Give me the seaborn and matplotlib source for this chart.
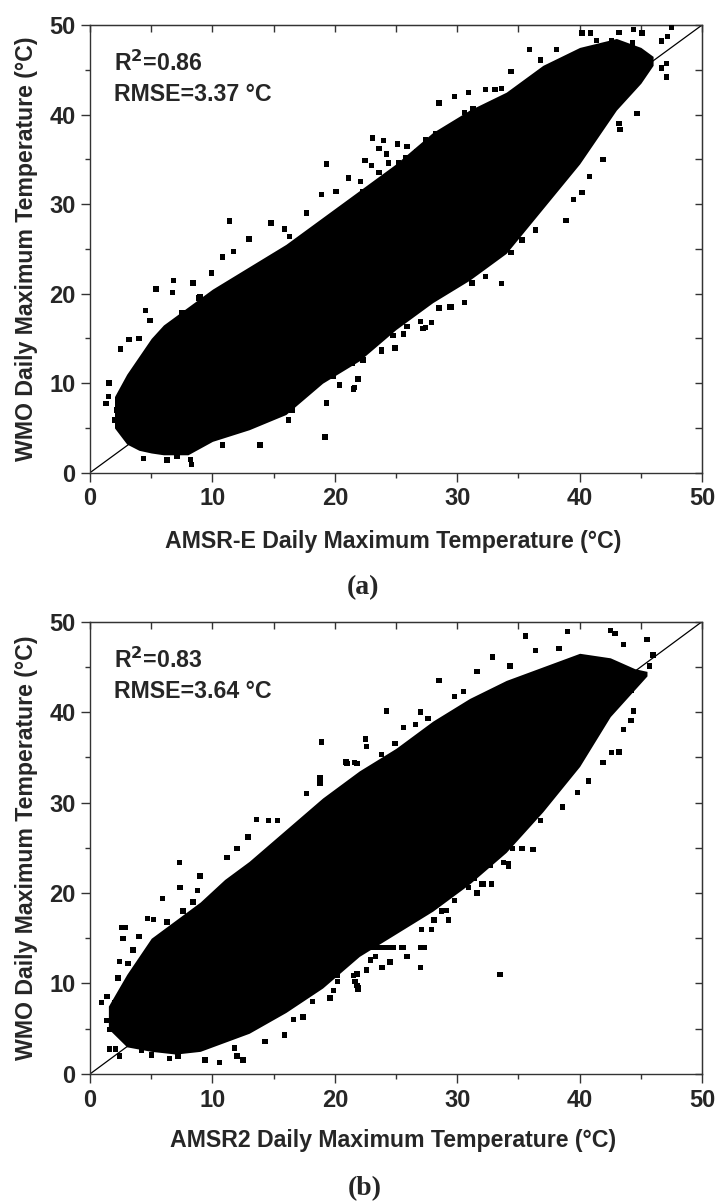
import numpy as np
import seaborn as sns
import matplotlib.pyplot as plt
from matplotlib.ticker import MultipleLocator

# ---- panel (a): AMSR-E vs WMO ----
# solid core of the point cloud (x, lower edge, upper edge)
a_core_x = [2, 3, 4, 5, 6, 8, 10, 13, 16, 19, 22, 25, 28, 31, 34, 37, 40, 43, 45, 46]
a_core_lo = [5.0, 3.2, 2.5, 2.2, 2.0, 2.0, 3.5, 4.8, 6.5, 10.0, 12.5, 16.0, 19.0, 21.5, 24.5, 29.5, 34.5, 40.5, 43.5, 45.5]
a_core_hi = [8.5, 11.0, 13.0, 15.0, 16.5, 18.5, 20.5, 23.0, 25.5, 28.5, 31.5, 34.5, 38.0, 40.5, 42.5, 45.5, 47.5, 48.5, 47.5, 46.5]
# loose points around the core
a_pts_x = [1.3, 1.5, 1.55, 2.2, 2.0, 2.5, 3.2, 4.0, 4.55, 4.9, 5.4, 6.8, 6.75, 8.4, 8.9, 7.5,
           4.35, 6.3, 7.1, 8.3, 8.2, 10.8, 13.9, 16.2, 16.5, 19.2, 19.3, 21.5, 20.4, 19.9, 21.2,
           21.6, 21.9, 22.3, 23.8, 24.9, 24.75, 25.6, 25.9, 27.0, 27.4, 27.9, 28.5, 29.5, 30.6,
           33.6, 31.2, 32.3, 34.4, 38.9, 40.8, 40.2, 39.5, 41.9, 43.3, 44.7, 43.2, 47.1, 47.1,
           46.7, 46.7, 47.2, 47.5, 45.1, 44.4, 44.3, 42.6, 43.2, 40.2, 40.9, 41.4, 38.1, 35.9,
           36.8, 34.4, 33.1, 33.6, 32.3, 30.9, 29.8, 28.5, 31.3, 30.6, 29.8, 28.2, 27.4, 26.7,
           25.9, 25.1, 24.0, 23.1, 23.6, 24.2, 22.5, 23.0, 22.1, 22.3, 23.6, 24.4, 25.2, 25.8,
           11.4, 13.0, 14.8, 19.3, 18.9, 20.1, 21.1, 22.4, 17.7, 9.9, 10.8, 11.7, 7.6, 9.0, 16.3,
           15.9, 29.4, 27.2, 24.9, 23.8, 21.9, 21.4, 36.4, 35.3]
a_pts_y = [7.75, 8.5, 10.0, 7.0, 5.9, 13.8, 14.9, 15.0, 18.1, 17.0, 20.5, 21.5, 20.1, 21.2, 19.5, 17.9,
           1.6, 1.4, 1.8, 0.9, 1.5, 3.1, 3.1, 5.9, 7.0, 4.0, 7.8, 9.35, 9.8, 10.8, 12.2,
           9.5, 10.5, 12.6, 13.7, 14.0, 15.3, 15.5, 16.3, 16.9, 16.2, 16.8, 18.4, 18.5, 19.0,
           21.1, 21.2, 21.9, 24.6, 28.2, 33.1, 31.3, 30.5, 35.0, 38.3, 40.1, 39.0, 44.2, 45.7,
           45.2, 48.2, 48.7, 49.8, 49.1, 49.5, 48.0, 48.2, 49.2, 49.1, 49.1, 48.3, 47.3, 47.3,
           46.1, 44.8, 42.8, 42.9, 42.8, 42.5, 42.0, 41.3, 40.7, 40.2, 38.9, 37.9, 37.2, 35.9,
           36.4, 36.7, 37.1, 37.4, 36.2, 35.6, 34.9, 34.3, 32.5, 31.4, 33.5, 34.6, 34.6, 35.2,
           28.1, 26.1, 27.9, 34.5, 31.1, 31.4, 32.9, 34.9, 29.0, 22.3, 24.1, 24.7, 17.9, 19.7, 26.4,
           27.2, 18.5, 16.1, 13.9, 13.6, 10.4, 12.2, 27.1, 26.0]

# ---- panel (b): AMSR2 vs WMO ----
b_core_x = [1.5, 3, 5, 7, 9, 11, 13, 16, 19, 22, 25, 28, 31, 34, 37, 40, 42.5, 44.5, 45.5]
b_core_lo = [5.0, 3.0, 2.5, 2.2, 2.5, 3.5, 4.5, 6.8, 9.5, 13.0, 15.5, 18.0, 21.0, 24.5, 29.0, 34.0, 39.5, 42.5, 44.0]
b_core_hi = [7.5, 11.0, 15.0, 17.0, 19.0, 21.5, 23.5, 27.0, 30.5, 33.5, 36.0, 39.0, 41.5, 43.5, 45.0, 46.5, 46.0, 44.8, 44.5]
b_pts_x = [0.95, 1.4, 2.0, 1.4, 1.6, 1.6, 2.1, 2.4, 2.6, 2.9, 2.7, 3.1, 2.4, 2.3, 3.5, 4.0, 4.7, 5.2,
           5.9, 6.3, 7.35, 7.3, 7.6, 8.4, 9.0, 8.8,
           4.2, 5.0, 6.5, 7.2, 9.4, 10.6, 11.8, 12.5, 12.0, 14.3, 15.9, 17.4, 16.6, 19.6, 19.9,
           20.2, 21.5, 21.9, 18.2,
           21.9, 21.8, 21.8, 22.6, 22.9, 23.3, 23.9, 24.5,
           22.0, 22.4, 22.8, 23.2, 23.6, 24.0, 24.4, 24.8,
           25.6, 25.9, 27.0, 27.05, 27.3, 27.1, 27.9, 28.1, 29.3, 28.7, 29.1, 29.8, 30.9, 31.6,
           31.4, 32.1, 32.8, 32.7, 33.8, 34.2, 33.5, 33.0, 34.5, 35.3,
           35.6, 39.0, 42.5, 42.9, 45.5, 43.6, 46.0, 45.7, 44.9, 44.2, 44.4, 44.2, 43.6, 43.2,
           42.6, 41.9, 40.7, 39.8, 38.6, 36.2, 36.8, 32.9, 36.4, 38.3, 31.6, 34.3, 28.5, 30.5,
           29.8, 24.2, 27.0, 27.6, 25.6, 26.6, 22.5, 22.6, 24.9, 23.8, 24.3,
           18.9, 21.0, 21.8, 18.8, 18.8, 17.7, 13.6, 14.6, 15.3, 12.9, 12.0,
           22.5, 11.2, 20.9, 21.6, 34.2, 32.0, 25.5, 24.5, 23.8, 21.65, 20.2]
b_pts_y = [7.9, 8.55, 7.9, 5.9, 4.9, 2.75, 2.75, 2.0, 16.2, 16.2, 15.0, 12.2, 12.4, 10.6, 13.7, 15.2, 17.2, 17.1,
           19.4, 16.8, 20.6, 23.4, 18.0, 19.0, 21.9, 20.3,
           2.65, 2.1, 1.7, 1.9, 1.55, 1.3, 2.85, 1.55, 2.0, 3.6, 4.3, 6.3, 6.0, 8.4, 9.2,
           10.9, 10.9, 9.5, 8.0,
           9.35, 9.8, 11.05, 11.5, 12.6, 13.0, 11.8, 12.4,
           14.0, 14.0, 14.0, 14.0, 14.0, 14.0, 14.0, 14.0,
           14.0, 13.0, 11.8, 14.0, 14.0, 16.0, 16.0, 17.0, 17.0, 18.0, 18.1, 19.2, 20.6, 20.0,
           21.6, 21.0, 21.0, 23.1, 23.4, 23.2, 11.0, 24.6, 24.9, 24.9,
           48.4, 48.9, 49.0, 48.7, 48.0, 47.5, 46.3, 45.1, 44.3, 42.4, 40.1, 39.1, 38.1, 35.6,
           35.5, 34.4, 32.4, 31.1, 29.5, 24.8, 28.0, 46.1, 46.8, 47.0, 44.5, 45.1, 43.5, 42.3,
           41.7, 40.1, 40.0, 39.3, 38.3, 38.6, 37.1, 36.2, 36.5, 35.3, 34.3,
           36.7, 34.3, 34.3, 32.7, 32.1, 31.0, 28.1, 28.0, 28.0, 26.2, 24.9,
           37.0, 23.9, 34.5, 34.4, 23.0, 21.0, 14.0, 12.3, 11.8, 10.2, 10.2]

sns.set_style("ticks")
plt.rcParams['font.family'] = ['Liberation Sans', 'DejaVu Sans']
plt.rcParams['font.weight'] = 'bold'

fig = plt.figure(figsize=(7.15, 12.04), dpi=100)

panels = [
    dict(rect=[0.1259, 0.6074, 0.856, 0.3718], core=(a_core_x, a_core_lo, a_core_hi),
         pts=(a_pts_x, a_pts_y), xlabel="AMSR-E Daily Maximum Temperature (°C)",
         r2="0.86", rmse="3.37", xlab_y=-0.1526),
    dict(rect=[0.1259, 0.1080, 0.856, 0.3757], core=(b_core_x, b_core_lo, b_core_hi),
         pts=(b_pts_x, b_pts_y), xlabel="AMSR2 Daily Maximum Temperature (°C)",
         r2="0.83", rmse="3.64", xlab_y=-0.148),
]

spine_col = "#333333"
txt_size = 16.7
for p in panels:
    ax = fig.add_axes(p["rect"])
    # 1:1 line under the points
    ax.plot([0, 50], [0, 50], color="black", lw=0.9, zorder=1)
    cx, clo, chi = p["core"]
    ax.fill_between(cx, clo, chi, color="black", lw=0, zorder=2)
    sns.scatterplot(x=p["pts"][0], y=p["pts"][1], marker="s", s=15, color="black",
                    edgecolor="none", linewidth=0, ax=ax, zorder=3)
    ax.set_xlim(0, 50)
    ax.set_ylim(0, 50)
    ax.xaxis.set_major_locator(MultipleLocator(10))
    ax.yaxis.set_major_locator(MultipleLocator(10))
    ax.xaxis.set_minor_locator(MultipleLocator(5))
    ax.yaxis.set_minor_locator(MultipleLocator(5))
    ax.tick_params(which="major", direction="out", length=6.5, width=1, color=spine_col,
                   labelsize=17, pad=4)
    ax.tick_params(which="minor", direction="out", length=3.6, width=1, color=spine_col)
    for lab in ax.get_xticklabels() + ax.get_yticklabels():
        lab.set_fontweight("bold")
    for sp in ax.spines.values():
        sp.set_linewidth(1.0)
        sp.set_color(spine_col)
        sp.set_visible(True)

    # inward ticks on top and right
    top = ax.secondary_xaxis("top")
    top.set_xticks(np.arange(0, 51, 5))
    top.tick_params(direction="in", length=5, width=1, color=spine_col, labeltop=False)
    top.spines["top"].set_color(spine_col)
    right = ax.secondary_yaxis("right")
    right.set_yticks(np.arange(0, 51, 5))
    right.tick_params(direction="in", length=5, width=1, color=spine_col, labelright=False)
    right.spines["right"].set_color(spine_col)

    ax.set_xlabel("")
    ax.set_ylabel("")
    ax.text(0.495, p["xlab_y"], p["xlabel"], transform=ax.transAxes, ha="center", va="center",
            fontsize=txt_size, fontweight="bold")
    ax.text(-0.103, 0.5, "WMO Daily Maximum Temperature (°C)", transform=ax.transAxes,
            ha="center", va="center", rotation=90, fontsize=txt_size, fontweight="bold")
    ax.text(0.039, 0.897, "R$^{\\mathbf{2}}$=" + p["r2"], transform=ax.transAxes,
            ha="left", va="baseline", fontsize=txt_size, fontweight="bold")
    ax.text(0.039, 0.831, "RMSE=" + p["rmse"] + " °C", transform=ax.transAxes,
            ha="left", va="baseline", fontsize=txt_size, fontweight="bold")

fig.text(0.507, 0.5116, "(a)", ha="center", va="center", fontsize=20, fontweight="bold",
         family=["Liberation Serif", "DejaVu Serif"])
fig.text(0.51, 0.0125, "(b)", ha="center", va="center", fontsize=20, fontweight="bold",
         family=["Liberation Serif", "DejaVu Serif"])

fig.savefig("out.png", dpi=100)
